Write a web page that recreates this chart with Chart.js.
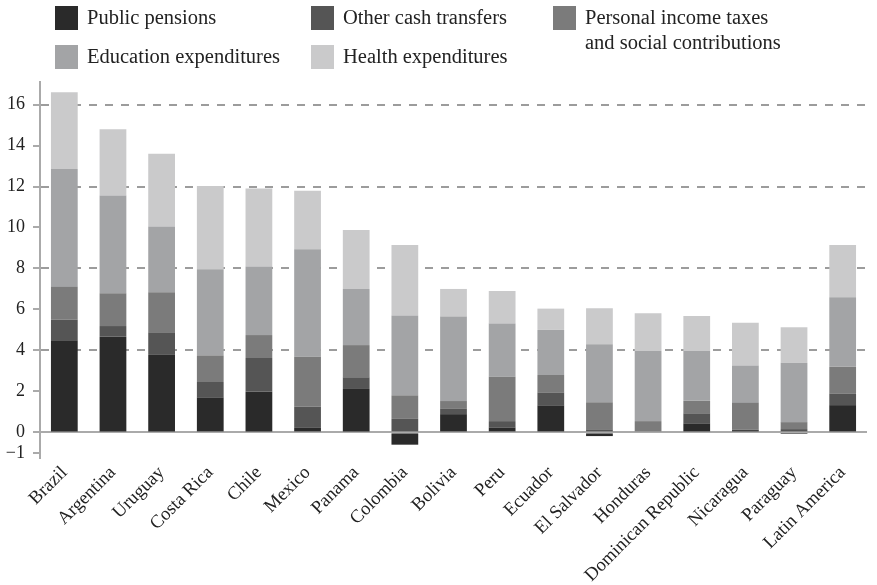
<!DOCTYPE html>
<html>
<head>
<meta charset="utf-8">
<script src="https://cdn.jsdelivr.net/npm/chart.js@4"></script>
<style>
  body { margin: 0; background: #fff; }
  #wrap { position: relative; width: 877px; height: 585px; }
  #legend { position: absolute; left: 0; top: 0; width: 877px; height: 80px; font-family: "Liberation Serif", serif; font-size: 20.5px; color: #222; }
  .item { position: absolute; display: flex; align-items: flex-start; }
  .sw { width: 23px; height: 24px; margin-right: 9px; flex: none; }
  .txt { line-height: 25px; margin-top: -1px; }
</style>
</head>
<body>
<div id="wrap">
  <canvas id="chart" width="877" height="585"></canvas>
  <div id="legend"></div>
</div>
<script>
const countries = ['Brazil', 'Argentina', 'Uruguay', 'Costa Rica', 'Chile', 'Mexico', 'Panama', 'Colombia',
  'Bolivia', 'Peru', 'Ecuador', 'El Salvador', 'Honduras', 'Dominican Republic', 'Nicaragua', 'Paraguay', 'Latin America'];

const publicPensions = [4.5, 4.67, 3.78, 1.71, 2.0, 0.22, 2.16, -0.6, 0.89, 0.24, 1.32, -0.18, 0, 0.44, 0.11, -0.08, 1.33];
const otherCash      = [1.0, 0.52, 1.1, 0.75, 1.63, 1.03, 0.53, 0.66, 0.28, 0.31, 0.63, 0.15, 0, 0.49, 0.03, 0.16, 0.57];
const incomeTaxes    = [1.6, 1.6, 1.96, 1.3, 1.12, 2.44, 1.57, 1.15, 0.36, 2.17, 0.85, 1.32, 0.55, 0.61, 1.3, 0.34, 1.3];
const education      = [5.75, 4.77, 3.21, 4.2, 3.34, 5.25, 2.74, 3.89, 4.12, 2.59, 2.2, 2.83, 3.42, 2.43, 1.83, 2.9, 3.4];
const health         = [3.75, 3.24, 3.55, 4.07, 3.81, 2.85, 2.88, 3.45, 1.35, 1.59, 1.04, 1.76, 1.84, 1.71, 2.08, 1.73, 2.55];

const yTicks = [-1, 0, 2, 4, 6, 8, 10, 12, 14, 16];
const dashedAt = [4, 8, 12, 16];

const seriesNames = ['Public pensions', 'Other cash transfers', 'Personal income taxes and social contributions',
  'Education expenditures', 'Health expenditures'];
const seriesColors = ['#2a2a2a', '#555555', '#7b7b7b', '#a3a4a6', '#cacacb'];
const seriesData = [publicPensions, otherCash, incomeTaxes, education, health];

// legend is html: 3 columns, 2 rows, the long one wraps
const legendSpots = [
  { left: 55, top: 6 }, { left: 311, top: 6 }, { left: 553, top: 6 },
  { left: 55, top: 45 }, { left: 311, top: 45 }
];
const legendLabels = ['Public pensions', 'Other cash transfers', 'Personal income taxes<br>and social contributions',
  'Education expenditures', 'Health expenditures'];

const legendEl = document.getElementById('legend');
legendLabels.forEach((txt, i) => {
  const d = document.createElement('div');
  d.className = 'item';
  d.style.left = legendSpots[i].left + 'px';
  d.style.top = legendSpots[i].top + 'px';
  d.innerHTML = `<div class="sw" style="background:${seriesColors[i]}"></div><div class="txt">${txt}</div>`;
  legendEl.appendChild(d);
});

const serif = '"Liberation Serif", serif';

new Chart(document.getElementById('chart').getContext('2d'), {
  type: 'bar',
  data: {
    labels: countries,
    datasets: seriesData.map((arr, i) => ({
      label: seriesNames[i],
      data: arr,
      backgroundColor: seriesColors[i],
      borderWidth: 0,
      barPercentage: 0.55,
      categoryPercentage: 1
    }))
  },
  options: {
    responsive: false,
    animation: false,
    layout: { padding: { top: 82, right: 10, left: 0, bottom: 0 } },
    plugins: {
      legend: { display: false },
      tooltip: { enabled: false }
    },
    scales: {
      x: {
        stacked: true,
        afterFit: s => { s.height = 127; },
        grid: { display: false },
        border: { display: false },
        ticks: {
          minRotation: 45, maxRotation: 45, autoSkip: false,
          color: '#222', font: { family: serif, size: 18.5 }, padding: -4
        }
      },
      y: {
        stacked: true,
        min: -1.25,
        max: 17.1,
        afterFit: s => { s.width = 40; },
        afterBuildTicks: scale => { scale.ticks = yTicks.map(v => ({ value: v })); },
        grid: {
          color: ctx => ctx.tick && ctx.tick.value === 0 ? '#aaaaaa' : (ctx.tick && dashedAt.includes(ctx.tick.value) ? '#9c9c9c' : 'rgba(0,0,0,0)'),
          tickColor: '#aaaaaa',
          lineWidth: 2,
          tickLength: 7
        },
        border: {
          color: '#aaaaaa', width: 2,
          dash: ctx => (!ctx.tick || ctx.tick.value === 0) ? [] : [8, 8]
        },
        ticks: {
          color: '#222', font: { family: serif, size: 18 }, padding: 8,
          callback: v => v < 0 ? '\u2212' + Math.abs(v) : v
        }
      }
    }
  }
});
</script>
</body>
</html>
